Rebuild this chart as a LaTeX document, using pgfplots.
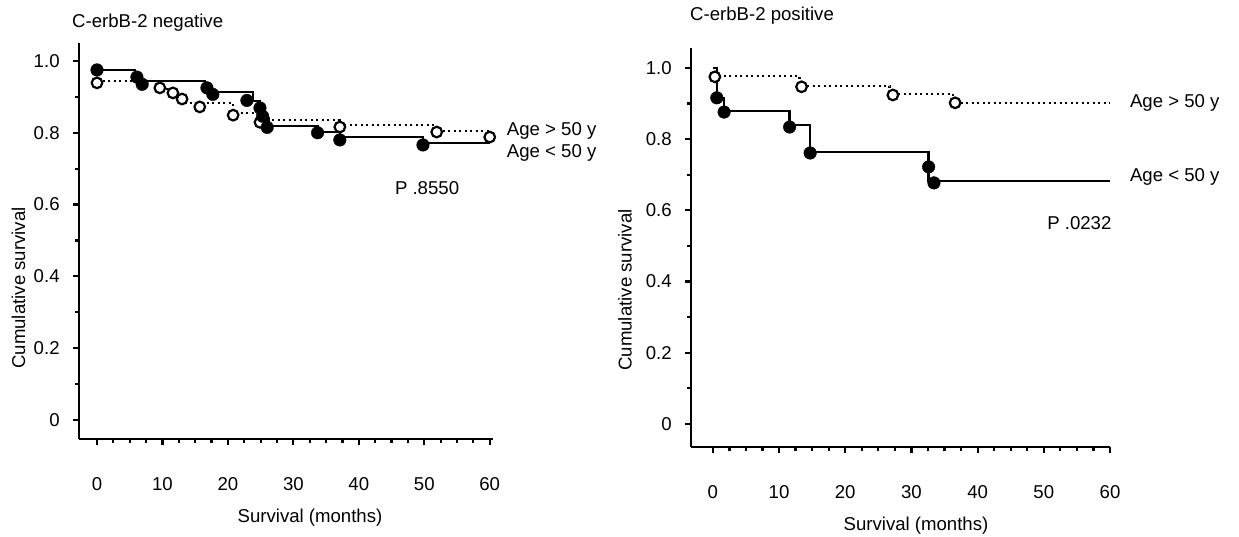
\documentclass[border=0pt]{standalone}
\usepackage{fontspec}
\setmainfont{Liberation Sans}
\usepackage{pgfplots}
\pgfplotsset{compat=1.18}
\pgfplotsset{
  kmaxis/.style={
    scale only axis,
    axis lines*=left,
    axis line style={line width=2.6pt, black},
    tick style={line width=2.2pt, black},
    tick align=outside,
    major tick length=6pt,
    minor tick length=4pt,
    xtick={0,10,20,30,40,50,60},
    xticklabels={0,10,20,30,40,50,60},
    ytick={0,0.2,0.4,0.6,0.8,1.0},
    yticklabels={0,0.2,0.4,0.6,0.8,1.0},
    minor x tick num=3,
    minor y tick num=1,
    /pgf/number format/assume math mode=true,
    tick label style={font=\fontsize{18.6}{22}\selectfont},
    yticklabel style={xshift=-7pt},
    xticklabel style={yshift=-26pt},
    clip=false,
  },
  survsolid/.style={black, line width=2.4pt},
  survdot/.style={black, line width=2.2pt, dash pattern=on 2pt off 3.5pt},
  filledmk/.style={only marks, mark=*, mark size=6.3pt, mark options={fill=black, draw=black}},
  openmk/.style={only marks, mark=*, mark size=5.3pt, mark options={fill=white, draw=black, line width=2.2pt}},
}
\begin{document}
\fontsize{18.6}{22}\selectfont
\begin{tikzpicture}
\useasboundingbox (0pt,0pt) rectangle (1239pt,-537pt);
% ---------------- Left panel ----------------
\begin{axis}[kmaxis,
  at={(79pt,-439pt)}, anchor=south west,
  width=414pt, height=396pt,
  xmin=-2.75, xmax=60.5, ymin=-0.053, ymax=1.05]
\addplot[survdot] coordinates {
 (0,0.945) (9.6,0.945) (9.6,0.922) (11.6,0.922) (11.6,0.905) (13.0,0.905)
 (13.0,0.883) (20.8,0.883) (20.8,0.855) (24.9,0.855) (24.9,0.836) (37.1,0.836)
 (37.1,0.822) (51.9,0.822) (51.9,0.805) (60,0.805)};
\addplot[survsolid] coordinates {
 (0,0.975) (5.8,0.975) (5.8,0.944) (16.5,0.944) (16.5,0.914) (23.8,0.914)
 (23.8,0.889) (24.8,0.889) (24.8,0.862) (25.4,0.862) (25.4,0.840) (26.3,0.840)
 (26.3,0.819) (33.7,0.819) (33.7,0.802) (37.1,0.802) (37.1,0.788) (49.8,0.788)
 (49.8,0.772) (60,0.772)};
\addplot[openmk] coordinates {
 (0,0.939) (9.6,0.925) (11.6,0.911) (13.0,0.894) (15.7,0.872) (20.8,0.849)
 (24.9,0.829) (37.1,0.816) (51.9,0.802) (60,0.788)};
\addplot[filledmk] coordinates {
 (0,0.975) (6.1,0.955) (6.9,0.935) (16.8,0.925) (17.7,0.907) (22.9,0.890)
 (24.9,0.869) (25.3,0.846) (26.0,0.815) (33.7,0.800) (37.1,0.780) (49.8,0.766)};
\node[anchor=west, inner sep=0pt] at (axis cs:62.6,0.805) {Age > 50 y};
\node[anchor=west, inner sep=0pt] at (axis cs:62.6,0.744) {Age < 50 y};
\node[anchor=west, inner sep=0pt] at (axis cs:45.5,0.645) {P .8550};
\end{axis}
% ---------------- Right panel ----------------
\begin{axis}[kmaxis,
  at={(691pt,-447pt)}, anchor=south west,
  width=419pt, height=399pt,
  xmin=-3.3, xmax=60.0, ymin=-0.065, ymax=1.056]
\addplot[survdot] coordinates {
 (0,0.978) (13.1,0.978) (13.1,0.949) (26.7,0.949) (26.7,0.927) (36.3,0.927)
 (36.3,0.902) (60,0.902)};
\addplot[survsolid] coordinates {
 (0,1.0) (0.6,1.0) (0.6,0.916) (1.7,0.916) (1.7,0.879) (11.6,0.879)
 (11.6,0.840) (14.7,0.840) (14.7,0.764) (32.6,0.764) (32.6,0.683) (60,0.683)};
\addplot[openmk] coordinates {
 (0.3,0.975) (13.4,0.947) (27.2,0.924) (36.6,0.902)};
\addplot[filledmk] coordinates {
 (0.6,0.916) (1.7,0.876) (11.6,0.834) (14.7,0.761) (32.6,0.722) (33.4,0.677)};
\node[anchor=west, inner sep=0pt] at (axis cs:63.0,0.902) {Age > 50 y};
\node[anchor=west, inner sep=0pt] at (axis cs:63.0,0.694) {Age < 50 y};
\node[anchor=west, inner sep=0pt] at (axis cs:50.5,0.565) {P .0232};
\end{axis}
% ---------------- Titles and axis labels ----------------
\node[anchor=west, inner sep=0pt] at (72pt,-23pt) {C-erbB-2 negative};
\node[anchor=west, inner sep=0pt] at (690pt,-16pt) {C-erbB-2 positive};
\node[rotate=90, inner sep=0pt] at (18.5pt,-288pt) {Cumulative survival};
\node[rotate=90, inner sep=0pt] at (625pt,-290pt) {Cumulative survival};
\node[inner sep=0pt] at (310pt,-518pt) {Survival (months)};
\node[inner sep=0pt] at (916pt,-526pt) {Survival (months)};
\end{tikzpicture}
\end{document}
